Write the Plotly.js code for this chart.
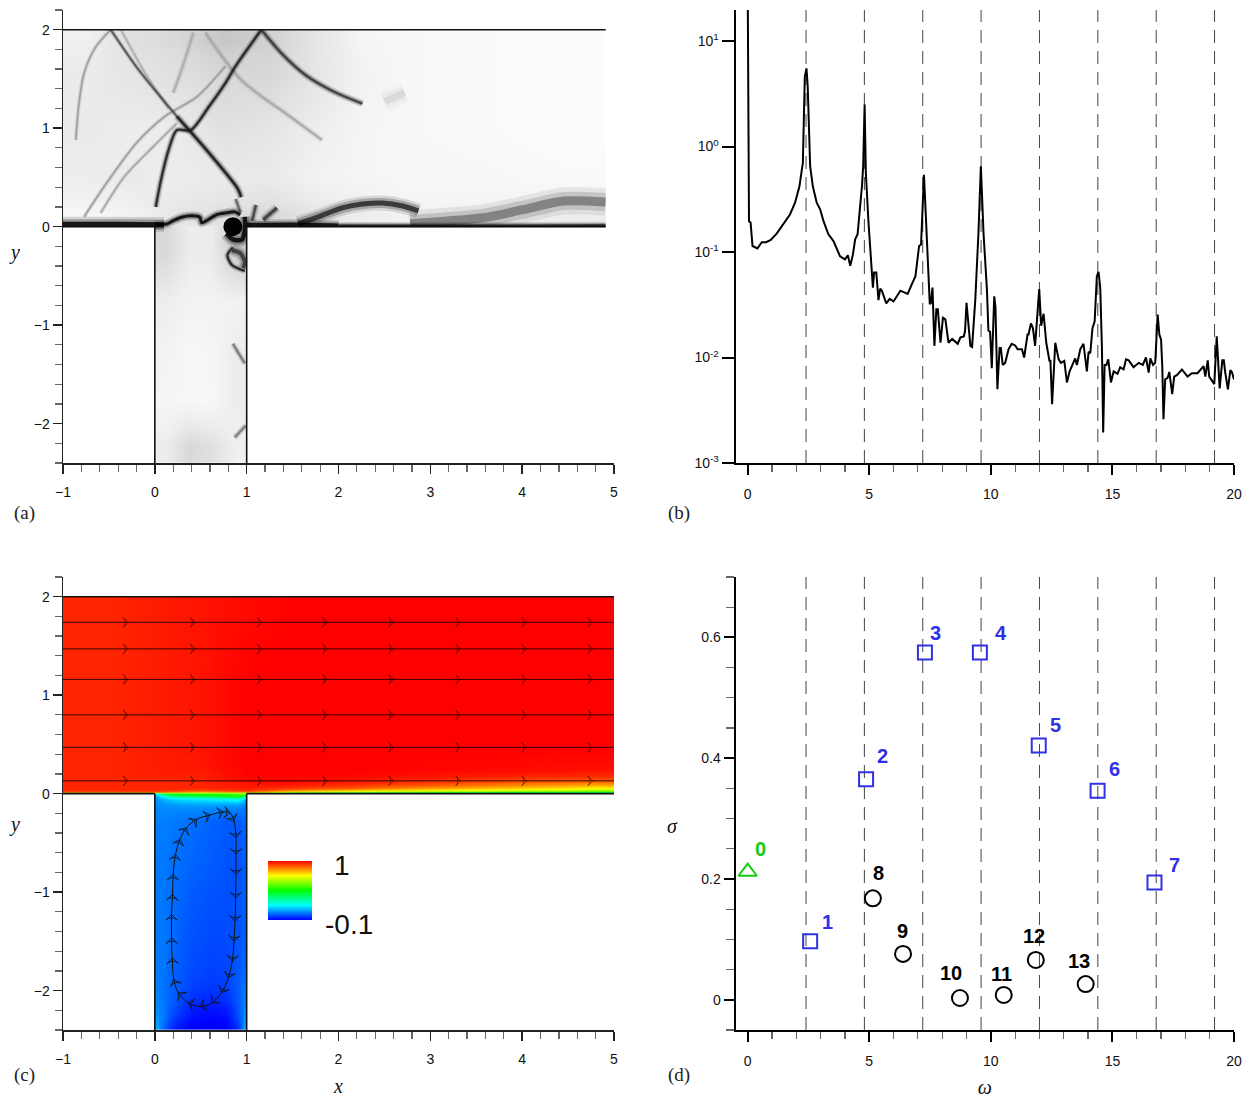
<!DOCTYPE html>
<html><head><meta charset="utf-8">
<script src="https://cdn.plot.ly/plotly-3.0.1.min.js"></script>
<style>html,body{margin:0;padding:0;background:#fff}#c{width:1255px;height:1098px}</style>
</head><body><div id="c"></div>
<script>
// ---------- panel (b) spectrum ----------
const specW=[0,0.055,0.12,0.2,0.4,0.58,0.76,0.95,1.2,1.47,1.74,1.95,2.13,2.27,2.35,2.42,2.47,2.57,2.68,2.84,2.98,3.12,3.32,3.53,3.8,4.0,4.12,4.22,4.33,4.42,4.52,4.7,4.75,4.81,4.86,4.97,5.07,5.15,5.2,5.29,5.38,5.45,5.52,5.7,5.84,6.0,6.28,6.58,6.69,6.9,7.05,7.13,7.18,7.25,7.31,7.4,7.49,7.54,7.6,7.68,7.76,7.82,7.93,8.03,8.13,8.26,8.41,8.64,8.75,8.89,8.94,9.0,9.1,9.16,9.23,9.36,9.49,9.59,9.7,9.84,9.9,9.97,10.04,10.14,10.19,10.27,10.36,10.41,10.49,10.59,10.73,10.86,11.0,11.1,11.28,11.37,11.51,11.55,11.65,11.73,11.82,11.99,12.07,12.17,12.28,12.41,12.45,12.52,12.65,12.79,12.88,13.02,13.13,13.24,13.47,13.54,13.68,13.81,13.95,14.02,14.09,14.18,14.27,14.36,14.43,14.5,14.57,14.62,14.68,14.75,14.83,14.94,15.05,15.21,15.32,15.46,15.56,15.67,15.87,16.08,16.25,16.38,16.49,16.56,16.67,16.76,16.86,16.93,17.0,17.05,17.1,17.17,17.27,17.34,17.46,17.54,17.65,17.86,18.09,18.27,18.5,18.75,18.82,18.92,18.98,19.12,19.19,19.29,19.41,19.52,19.58,19.64,19.75,19.85,19.92,20];
const specA=[40,0.196,0.19,0.114,0.108,0.124,0.124,0.13,0.15,0.183,0.227,0.293,0.42,0.70,4.6,5.5,3.7,0.65,0.42,0.293,0.254,0.196,0.147,0.127,0.091,0.085,0.093,0.074,0.095,0.132,0.147,0.42,0.65,2.5,0.56,0.19,0.074,0.046,0.064,0.064,0.035,0.045,0.043,0.0326,0.036,0.034,0.043,0.040,0.046,0.059,0.114,0.118,0.22,0.54,0.27,0.0986,0.032,0.033,0.046,0.0129,0.0287,0.0287,0.0138,0.0238,0.023,0.0138,0.015,0.0135,0.0155,0.0158,0.0178,0.033,0.0186,0.0129,0.0126,0.035,0.15,0.65,0.15,0.044,0.018,0.0175,0.0079,0.038,0.03,0.005,0.0123,0.0123,0.0085,0.0089,0.012,0.0135,0.013,0.012,0.012,0.01,0.0165,0.0165,0.021,0.019,0.0129,0.0445,0.02,0.026,0.0138,0.0093,0.0093,0.0036,0.0138,0.0096,0.0089,0.0093,0.0058,0.0074,0.0098,0.0085,0.012,0.0135,0.0074,0.0113,0.011,0.019,0.022,0.059,0.065,0.0455,0.012,0.00195,0.0085,0.0085,0.0096,0.0058,0.0074,0.007,0.0081,0.0077,0.0096,0.0094,0.0081,0.0089,0.0085,0.01,0.0072,0.0098,0.0085,0.0089,0.0255,0.0165,0.0148,0.0083,0.0026,0.0062,0.0064,0.0073,0.0045,0.0066,0.0068,0.0077,0.0066,0.0071,0.0071,0.0083,0.0066,0.0094,0.0066,0.0059,0.0056,0.0159,0.0051,0.0094,0.0094,0.0072,0.005,0.0076,0.0072,0.0062];
const dashedW=[2.4,4.8,7.2,9.6,12,14.4,16.8,19.2];
const logTickVals=[0.001,0.01,0.1,1,10];
const logTickText=['10<sup>-3</sup>','10<sup>-2</sup>','10<sup>-1</sup>','10<sup>0</sup>','10<sup>1</sup>'];

// ---------- panel (d) eigenvalues ----------
const triW=[0], triS=[0.212], triL=['0'];
const sqW=[2.57,4.87,7.29,9.55,11.97,14.39,16.73];
const sqS=[0.097,0.365,0.575,0.575,0.421,0.346,0.194];
const sqL=['1','2','3','4','5','6','7'];
const cirW=[5.15,6.39,8.73,10.53,11.85,13.9];
const cirS=[0.168,0.076,0.003,0.008,0.066,0.026];
const cirL=['8','9','10','11','12','13'];
const triShift=[[13,23]];
const sqShift=[[17,19],[16,23],[11,20],[21,20],[17,21],[17,22],[20,18]];
const cirShift=[[6,25],[-1,23],[-9,25],[-2,21],[-2,24],[-7,23]];

// ---------- panel (c) velocity field ----------
const chanX=[-1,-0.75,-0.25,0.25,0.75,1.25,1.75,2.5,3.5,4.5,5];
const chanY=[0,0.006,0.015,0.03,0.055,0.085,0.12,0.17,0.25,0.65,1.5,2];
const chanZ=[
[0.3,0.3,0.3,0.45,0.4,0.1,0.1,0.1,0.1,0.1],
[0.85,0.85,0.85,0.75,0.8,0.55,0.5,0.45,0.4,0.4],
[0.93,0.93,0.93,0.85,0.9,0.75,0.65,0.6,0.55,0.5],
[0.96,0.96,0.96,0.93,0.96,0.88,0.82,0.75,0.7,0.65],
[0.96,0.96,0.96,0.96,0.97,0.95,0.92,0.85,0.8,0.75],
[0.96,0.96,0.96,0.96,0.98,0.98,0.96,0.92,0.87,0.84],
[0.96,0.96,0.96,0.96,0.99,0.99,0.98,0.96,0.93,0.92],
[0.96,0.96,0.97,0.97,1,1,1,0.99,0.98,0.97],
[0.96,0.96,0.97,0.98,1,1,1,1,1,1],
[0.96,0.96,0.97,0.98,1,1,1,1,1,1],
[0.96,0.96,0.97,0.98,0.99,1,1,1,1,1]];
const cavX=[0,0.05,0.15,0.3,0.5,0.7,0.85,0.95,1];
const cavY=[-2.4,-2.35,-2.25,-2.1,-1.8,-1,-0.4,-0.15,-0.06,-0.03,-0.01,0];
const cavZ=[
[0.08,0,-0.07,-0.1,-0.1,-0.1,-0.05,0.08],
[0.07,0.02,-0.05,-0.09,-0.1,-0.09,-0.03,0.07],
[0.05,0.03,-0.02,-0.07,-0.08,-0.07,-0.01,0.05],
[0.04,0.02,0,-0.03,-0.04,-0.03,0,0.03],
[0.03,0.03,0.01,-0.01,-0.02,-0.02,-0.01,0],
[0.03,0.03,0.02,0.01,0,-0.01,-0.01,0],
[0.04,0.04,0.03,0.02,0.01,0,0,0.01],
[0.05,0.06,0.07,0.08,0.08,0.08,0.08,0.05],
[0.07,0.12,0.18,0.2,0.22,0.25,0.28,0.15],
[0.1,0.25,0.35,0.4,0.42,0.45,0.48,0.4],
[0.2,0.38,0.45,0.48,0.5,0.5,0.55,0.6]];
const rainbow=[[0,'#0000ff'],[0.25,'#00ffff'],[0.5,'#00ff00'],[0.75,'#ffff00'],[1,'#ff0000']];
const streamY=[1.74,1.47,1.16,0.80,0.47,0.13];
const streamArrowX=[-1,-0.29,0.44,1.17,1.88,2.6,3.33,4.05,4.77,5];
const loopX=[0.818,0.862,0.884,0.884,0.884,0.88,0.873,0.862,0.844,0.8,0.727,0.618,0.491,0.364,0.255,0.207,0.189,0.182,0.182,0.193,0.2,0.225,0.273,0.345,0.455,0.6,0.745,0.818];
const loopY=[-0.193,-0.278,-0.447,-0.617,-0.82,-1.058,-1.295,-1.498,-1.70,-1.87,-2.02,-2.125,-2.16,-2.125,-2.02,-1.888,-1.668,-1.464,-1.227,-1.024,-0.82,-0.617,-0.464,-0.346,-0.261,-0.217,-0.186,-0.193];

// ---------- panel (a) schlieren field ----------
const gChanX=[-1,-0.5,0,0.5,1,1.5,2,2.5,3,4,4.91];
const gChanY=[0,0.25,0.75,1.25,1.75,2];
const gChanZ=[
[0.97,0.95,0.9,0.88,0.85,0.9,0.93,0.95,0.95,0.93],
[0.93,0.92,0.93,0.92,0.92,0.95,0.96,0.97,0.97,0.98],
[0.92,0.93,0.92,0.88,0.9,0.93,0.96,0.97,0.98,0.99],
[0.92,0.9,0.88,0.85,0.85,0.9,0.95,0.97,0.98,0.99],
[0.94,0.88,0.85,0.78,0.82,0.9,0.96,0.97,0.98,0.99]];
const gCavX=[0,0.25,0.5,0.75,1];
const gCavY=[-2.4,-2.05,-1.5,-1,-0.5,0];
const gCavZ=[
[0.93,0.85,0.88,0.94],
[0.96,0.97,0.97,0.93],
[0.95,0.97,0.96,0.93],
[0.93,0.95,0.95,0.95],
[0.85,0.93,0.92,0.8]];
const shockDownTopX=[-0.48,-0.175,0.24], shockDownTopY=[2,1.59,1.12];
const shockDownX=[0.24,0.58,0.9,0.94], shockDownY=[1.12,0.76,0.39,0.3];
const shockUpX=[0.01,0.066,0.15,0.24,0.39,0.59,0.77,0.88,1.16], shockUpY=[0.2,0.47,0.78,0.98,0.98,1.22,1.46,1.63,2];
const shockOutX=[1.16,1.38,1.64,1.95,2.26], shockOutY=[2,1.76,1.54,1.37,1.25];
const arcAX=[-0.48,-0.64,-0.77,-0.83,-0.86], arcAY=[2,1.83,1.56,1.22,0.88];
const arcCX=[-0.77,-0.55,-0.2,0.11,0.46,0.77], arcCY=[0.1,0.41,0.85,1.12,1.32,1.63];
const arcDX=[-0.59,-0.33,-0.02,0.24], arcDY=[0.14,0.51,0.81,1.05];
const arcEX=[0.42,0.29,0.2], arcEY=[1.97,1.59,1.36];
const arcHX=[0.55,0.94,1.47,1.82], arcHY=[1.97,1.49,1.12,0.88];
const arcIX=[-0.37,-0.1,0.15], arcIY=[2,1.55,1.2];
const blurGX=[2.5,2.72], blurGY=[1.27,1.36];
const shearLeftX=[-1,-0.4,0.1], shearLeftY=[0.025,0.025,0.02];
const shearWaveX=[0,0.127,0.2,0.29,0.4,0.49,0.51,0.58,0.67,0.78,0.87,0.93], shearWaveY=[0.017,0.027,0.06,0.095,0.11,0.095,0.04,0.07,0.12,0.14,0.15,0.12];
const shearRightX=[1,1.5,2], shearRightY=[0.02,0.025,0.015];
const shearFarX=[2,3,4,4.91], shearFarY=[0.01,0.01,0.01,0.012];
const bumpOneX=[1.56,1.78,2.04,2.26,2.48,2.7,2.87], bumpOneY=[0.03,0.1,0.19,0.23,0.24,0.21,0.16];
const bumpTwoX=[2.78,3.57,4,4.45,4.91], bumpTwoY=[0.03,0.09,0.17,0.26,0.25];
const rayAX=[1.18,1.33], rayAY=[0.07,0.19];
const rayBX=[1.06,1.1], rayBY=[0.06,0.22];
const rayCX=[0.93,0.88], rayCY=[0.15,0.28];
const vortexArcX=[0.78,0.85,0.95,0.98,0.98], vortexArcY=[-0.07,-0.13,-0.13,-0.03,0.1];
const vortexCoreX=[0.85], vortexCoreY=[0];
const spiralOutX=[0.85,0.79,0.84,0.98], spiralOutY=[-0.21,-0.29,-0.39,-0.45];
const spiralInX=[0.84,0.93,0.98,0.96], spiralInY=[-0.24,-0.27,-0.36,-0.42];
const wallStreakAX=[0.85,0.98], wallStreakAY=[-1.19,-1.39];
const wallStreakBX=[0.87,0.99], wallStreakBY=[-2.14,-2.02];

const ridges=[
 [arcAX,arcAY,1.5,150],[arcCX,arcCY,1.5,150],[arcDX,arcDY,1.5,160],[arcEX,arcEY,2,170],[arcHX,arcHY,2,165],[arcIX,arcIY,1.5,170],
 [blurGX,blurGY,7,215],
 [bumpTwoX,bumpTwoY,9,120],[bumpOneX,bumpOneY,5,40],
 [shockDownTopX,shockDownTopY,1.6,70],[shockDownX,shockDownY,2.6,20],[shockUpX,shockUpY,2.2,25],[shockOutX,shockOutY,2.4,50],
 [rayAX,rayAY,3,50],[rayBX,rayBY,2.5,60],[rayCX,rayCY,2,90],
 [wallStreakAX,wallStreakAY,2,110],[wallStreakBX,wallStreakBY,2,110],
 [spiralOutX,spiralOutY,2,20],[spiralInX,spiralInY,4,50],
 [shearLeftX,shearLeftY,5,0],[shearWaveX,shearWaveY,3,0],[shearRightX,shearRightY,3.5,0],[shearFarX,shearFarY,2.5,10],[vortexArcX,vortexArcY,4.5,0]
];

const traces=[];
const grayScale=[[0,'#000000'],[1,'#ffffff']];
traces.push({type:'heatmap',x:gChanX,y:gChanY,z:gChanZ,zmin:0,zmax:1,zsmooth:'best',colorscale:grayScale,showscale:false,xaxis:'x',yaxis:'y',name:'field top'});
traces.push({type:'heatmap',x:gCavX,y:gCavY,z:gCavZ,zmin:0,zmax:1,zsmooth:'best',colorscale:grayScale,showscale:false,xaxis:'x',yaxis:'y',name:'field cavity'});
ridges.forEach(r=>{
  const c=`rgb(${r[3]},${r[3]},${r[3]})`;
  [[3,0.14],[2,0.28],[1,0.85]].forEach(s=>{
    traces.push({type:'scatter',mode:'lines',x:r[0],y:r[1],xaxis:'x',yaxis:'y',opacity:s[1],showlegend:false,hoverinfo:'skip',
      line:{color:c,width:r[2]*s[0],shape:'spline',smoothing:0.8}});
  });
});
traces.push({type:'scatter',mode:'markers',x:vortexCoreX,y:vortexCoreY,xaxis:'x',yaxis:'y',marker:{color:'#000',size:19},showlegend:false});

// panel b
dashedW.forEach(w=>traces.push({type:'scatter',mode:'lines',x:[w,w],y:[0.001,20],xaxis:'x2',yaxis:'y2',showlegend:false,line:{color:'#444',width:1,dash:'13px,8px'}}));
traces.push({type:'scatter',mode:'lines',x:specW,y:specA,xaxis:'x2',yaxis:'y2',showlegend:false,line:{color:'#000',width:2}});

// panel c
traces.push({type:'heatmap',x:chanX,y:chanY,z:chanZ,zmin:-0.1,zmax:1,zsmooth:'best',colorscale:rainbow,xaxis:'x3',yaxis:'y3',showscale:true,
  colorbar:{x:268/1255,xanchor:'left',y:1-861/1098,yanchor:'top',len:59,lenmode:'pixels',thickness:44,thicknessmode:'pixels',xpad:0,ypad:0,outlinewidth:0,borderwidth:0,showticklabels:false,ticks:''}});
traces.push({type:'heatmap',x:cavX,y:cavY,z:cavZ,zmin:-0.1,zmax:1,zsmooth:'best',colorscale:rainbow,xaxis:'x3',yaxis:'y3',showscale:false});
streamY.forEach(y=>traces.push({type:'scatter',mode:'lines+markers',x:streamArrowX,y:streamArrowX.map(()=>y),xaxis:'x3',yaxis:'y3',showlegend:false,
  line:{color:'rgba(20,0,0,0.85)',width:1},
  marker:{symbol:'arrow-wide-open',angle:90,size:streamArrowX.map((v,i)=>(i===0||i===streamArrowX.length-1)?0:7),color:'rgba(20,0,0,0.85)',line:{width:0.8,color:'rgba(20,0,0,0.85)'}}}));
traces.push({type:'scatter',mode:'lines+markers',x:loopX,y:loopY,xaxis:'x3',yaxis:'y3',showlegend:false,
  line:{color:'#111',width:1,shape:'spline'},
  marker:{symbol:'arrow-wide-open',angleref:'previous',size:8,color:'#111',line:{width:0.8,color:'#111'}}});

// panel d
dashedW.forEach(w=>traces.push({type:'scatter',mode:'lines',x:[w,w],y:[-0.05,0.7],xaxis:'x4',yaxis:'y4',showlegend:false,line:{color:'#444',width:1,dash:'13px,8px'}}));
traces.push({type:'scatter',mode:'markers',x:sqW,y:sqS,xaxis:'x4',yaxis:'y4',showlegend:false,marker:{symbol:'square-open',size:14,color:'#3030e6',line:{width:2,color:'#3030e6'}}});
traces.push({type:'scatter',mode:'markers',x:cirW,y:cirS,xaxis:'x4',yaxis:'y4',showlegend:false,marker:{symbol:'circle-open',size:16,color:'#000',line:{width:2,color:'#000'}}});
traces.push({type:'scatter',mode:'markers',x:triW,y:triS,xaxis:'x4',yaxis:'y4',showlegend:false,marker:{symbol:'triangle-up-open',size:16,color:'#11cc11',line:{width:2,color:'#11cc11'}}});

// layout helpers
const W=1255,H=1098;
const dx=(a,b)=>[a/W,b/W], dy=(t,b)=>[1-b/H,1-t/H];
function ax(extra){return Object.assign({showgrid:false,zeroline:false,showline:true,linecolor:'#222',linewidth:1.5,ticks:'outside',tickcolor:'#222',tickwidth:1.5,ticklen:9,tickfont:{family:'Liberation Sans',size:14,color:'#111'},fixedrange:true},extra);}
const minor=(d,l)=>({dtick:d,tick0:0,ticks:'outside',ticklen:l,tickcolor:'#666',tickwidth:1.2,showgrid:false});
const xA=(dom,anchor,extra)=>ax(Object.assign({domain:dom,anchor:anchor,range:[-1,5],tick0:0,dtick:1,minor:minor(0.2,7),ticklabelstandoff:7},extra||{}));
const yA=(dom,anchor)=>ax({domain:dom,anchor:anchor,range:[-2.4,2.2],tick0:0,dtick:1,minor:minor(0.2,7)});
const wX=(dom,anchor,extra)=>ax(Object.assign({domain:dom,anchor:anchor,range:[-0.5,20],tick0:0,dtick:5,linewidth:2,tickwidth:2,ticklen:10,linecolor:'#000',tickcolor:'#000',minor:minor(1,7),ticklabelstandoff:7},extra||{}));
const serif={family:'Liberation Serif',size:20,color:'#111'};
const serifLab={family:'Liberation Serif',size:19,color:'#222'};
const boldLab=(c)=>({family:'Liberation Sans',size:20,color:c});

const anns=[];
const paperText=(t,x,y,f)=>anns.push({xref:'paper',yref:'paper',x:x/W,y:1-y/H,text:t,showarrow:false,font:f,xanchor:'center',yanchor:'middle'});
paperText('<i>y</i>',14,252,serif);paperText('<i>y</i>',14,825,serif);paperText('<i>σ</i>',672,826,serif);
paperText('(a)',24,513,serifLab);paperText('(b)',679,513,serifLab);paperText('(c)',24,1075,serifLab);paperText('(d)',679,1075,serifLab);
paperText('1',342,865,{family:'Liberation Sans',size:28,color:'#111'});
paperText('-0.1',349,924,{family:'Liberation Sans',size:28,color:'#111'});
function pointLabels(xs,ys,ls,sh,c){ls.forEach((l,i)=>anns.push({xref:'x4',yref:'y4',x:xs[i],y:ys[i],text:'<b>'+l+'</b>',showarrow:false,xshift:sh[i][0],yshift:sh[i][1],font:boldLab(c)}));}
pointLabels(triW,triS,triL,triShift,'#11cc11');
pointLabels(sqW,sqS,sqL,sqShift,'#3030e6');
pointLabels(cirW,cirS,cirL,cirShift,'#000');

// masks and walls for the schlieren panel; walls for panel c
const wall=(xr,yr,x0,y0,x1,y1)=>({type:'line',xref:xr,yref:yr,x0,y0,x1,y1,layer:'above',line:{color:'#111',width:1.6}});
const mask=(x0,y0,x1,y1)=>({type:'rect',xref:'x',yref:'y',x0,y0,x1,y1,layer:'above',fillcolor:'#fff',line:{width:0}});
const shapes=[
 mask(-1,-2.39,-0.005,-0.005),mask(1.005,-2.39,5,-0.005),mask(4.91,0,5,2.2),mask(-1,2.005,5,2.2),
 wall('x','y',-1,2,4.91,2),wall('x','y',-1,0,0,0),wall('x','y',1,0,4.91,0),wall('x','y',0,0,0,-2.4),wall('x','y',1,0,1,-2.4),
 wall('x3','y3',-1,2,5,2),wall('x3','y3',-1,0,0,0),wall('x3','y3',1,0,5,0),wall('x3','y3',0,0,0,-2.4),wall('x3','y3',1,0,1,-2.4)
];

const layout={width:W,height:H,margin:{l:0,r:0,t:0,b:0},paper_bgcolor:'#fff',plot_bgcolor:'rgba(0,0,0,0)',showlegend:false,hovermode:false,
 font:{family:'Liberation Sans',color:'#111'},
 xaxis:xA(dx(63,614),'y',{}),
 yaxis:yA(dy(10,463),'x'),
 xaxis2:wX(dx(735.5,1234),'y2',{}),
 yaxis2:ax({domain:dy(10,463),anchor:'x2',type:'log',range:[-3,1.294],tickmode:'array',tickvals:logTickVals,ticktext:logTickText,linewidth:2,tickwidth:2,ticklen:12,linecolor:'#000',tickcolor:'#000'}),
 xaxis3:xA(dx(63,614),'y3',{title:{text:'<i>x</i>',font:serif,standoff:12}}),
 yaxis3:yA(dy(577,1030),'x3'),
 xaxis4:wX(dx(735.5,1234),'y4',{title:{text:'<i>ω</i>',font:serif,standoff:12}}),
 yaxis4:ax({domain:dy(577,1030),anchor:'x4',range:[-0.05,0.7],tick0:0,dtick:0.2,tickformat:'~g',linewidth:2,tickwidth:2,ticklen:10,linecolor:'#000',tickcolor:'#000',minor:minor(0.05,8)}),
 annotations:anns,shapes:shapes};
Plotly.newPlot('c',traces,layout,{staticPlot:true,displayModeBar:false});
</script></body></html>
